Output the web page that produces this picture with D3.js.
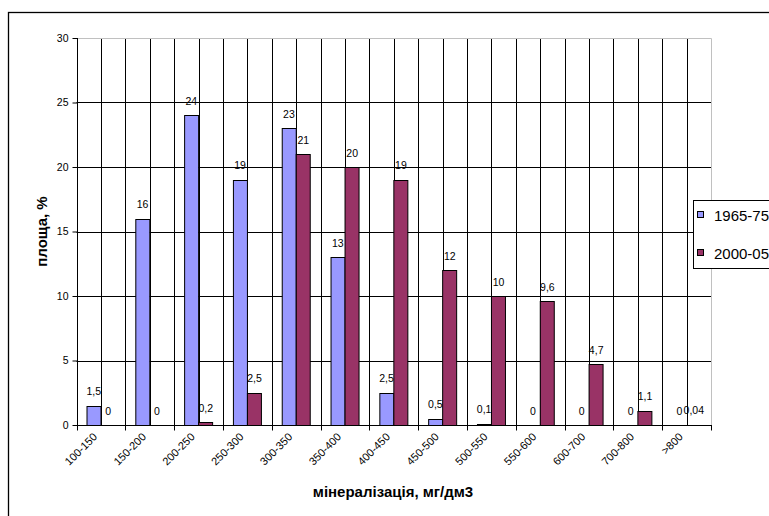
<!DOCTYPE html>
<html>
<head>
<meta charset="utf-8">
<script src="https://cdn.jsdelivr.net/npm/d3@7"></script>
<style>
  html, body { margin: 0; padding: 0; background: #fff; }
  svg { display: block; font-family: Arial, "Liberation Sans", sans-serif; }
</style>
</head>
<body>
<svg id="chart" width="769" height="516"></svg>
<script>
// Mineralisation classes (mg/dm3) and share of area (%) for two periods
const categories = ["100-150", "150-200", "200-250", "250-300", "300-350", "350-400",
  "400-450", "450-500", "500-550", "550-600", "600-700", "700-800", ">800"];
const seriesNames = ["1965-75", "2000-05"];
const values1965 = [1.5, 16, 24, 19, 23, 13, 2.5, 0.5, 0.1, 0, 0, 0, 0];
const values2000 = [0, 0, 0.2, 2.5, 21, 20, 19, 12, 10, 9.6, 4.7, 1.1, 0.04];
const yTicks = [0, 5, 10, 15, 20, 25, 30];
const colors = ["#9999FF", "#993366"];
const yTitle = "площа, %";
const xTitle = "мінералізація, мг/дм3";

const svg = d3.select("#chart");
const W = 769, H = 516;
const plot = { left: 76.5, right: 711, top: 38, bottom: 425 };

// outer chart frame
svg.append("rect")
  .attr("x", 8.5).attr("y", 12.5)
  .attr("width", W + 20).attr("height", H + 20)
  .attr("fill", "none").attr("stroke", "#000").attr("stroke-width", 1.3);

const x = d3.scaleBand().domain(categories).range([plot.left, plot.right]).padding(0);
const bw = x.bandwidth();
const xs = d3.scaleBand().domain(seriesNames).range([0, bw]).paddingInner(0).paddingOuter(0.695);
const y = d3.scaleLinear().domain([0, 30]).range([plot.bottom, plot.top]);

const crisp = v => Math.round(v) + 0.5;

// horizontal gridlines
const grid = svg.append("g");
grid.selectAll("line.h").data(yTicks.filter(t => t > 0 && t < 30)).join("line")
  .attr("x1", plot.left).attr("x2", plot.right)
  .attr("y1", d => crisp(y(d))).attr("y2", d => crisp(y(d)))
  .attr("stroke", "#000").attr("stroke-width", 1);

// vertical gridlines at category boundaries and centres
const vLines = [];
categories.forEach(c => { vLines.push(x(c)); vLines.push(x(c) + bw / 2); });
grid.selectAll("line.v").data(vLines.filter(v => v > plot.left + 1)).join("line")
  .attr("x1", d => crisp(d)).attr("x2", d => crisp(d))
  .attr("y1", plot.top).attr("y2", plot.bottom)
  .attr("stroke", "#000").attr("stroke-width", 1);

// plot area border (top and right)
svg.append("path")
  .attr("d", `M${plot.left},${crisp(plot.top)}H${crisp(plot.right)}V${plot.bottom}`)
  .attr("fill", "none").attr("stroke", "#c0c0c0").attr("stroke-width", 1);

// bars (values under one pixel tall are not drawn)
const rows = categories.map((c, i) => ({ cat: c, vals: [values1965[i], values2000[i]] }));
const groups = svg.append("g").selectAll("g").data(rows).join("g")
  .attr("transform", d => `translate(${x(d.cat)},0)`);

groups.selectAll("rect")
  .data(d => d.vals.map((v, k) => ({ v, k })).filter(e => plot.bottom - y(e.v) >= 1))
  .join("rect")
  .attr("x", e => Math.round(xs(seriesNames[e.k])) + 0.5)
  .attr("width", Math.round(xs.bandwidth()))
  .attr("y", e => Math.round(y(e.v)) + 0.5)
  .attr("height", e => Math.max(1, Math.round(plot.bottom - y(e.v))))
  .attr("fill", e => colors[e.k])
  .attr("stroke", "#000").attr("stroke-width", 1);

// value labels
const fmt = v => String(v).replace(".", ",");
groups.selectAll("text").data(d => d.vals.map((v, k) => ({ v, k }))).join("text")
  .attr("x", e => xs(seriesNames[e.k]) + xs.bandwidth() / 2)
  .attr("y", e => y(e.v) - 10.5)
  .attr("text-anchor", "middle")
  .attr("font-size", 10.5)
  .attr("fill", "#000")
  .text(e => fmt(e.v));

// y axis
const yAxis = svg.append("g").attr("transform", `translate(${crisp(plot.left)},0)`)
  .call(d3.axisLeft(y).tickValues(yTicks).tickSize(5).tickPadding(4).tickFormat(d3.format("d")));
yAxis.select(".domain").attr("stroke", "#000").attr("d", `M0,${plot.top}V${plot.bottom}`);
yAxis.selectAll(".tick line").attr("stroke", "#000");
yAxis.selectAll(".tick text").attr("font-size", 10.5).attr("font-family", "Arial, 'Liberation Sans', sans-serif").attr("fill", "#000");

// x axis
const xAxis = svg.append("g").attr("transform", `translate(0,${crisp(plot.bottom)})`);
xAxis.append("line").attr("x1", plot.left).attr("x2", plot.right + 1)
  .attr("stroke", "#000");
const bounds = categories.map(c => x(c)).concat([plot.right]);
xAxis.selectAll("line.t").data(bounds).join("line")
  .attr("x1", d => crisp(d)).attr("x2", d => crisp(d))
  .attr("y1", 0).attr("y2", 5).attr("stroke", "#000");
xAxis.selectAll("text").data(categories).join("text")
  .attr("transform", c => `translate(${x(c) + bw / 2 - 3},${12}) rotate(-45)`)
  .attr("text-anchor", "end")
  .attr("font-size", 11)
  .attr("fill", "#000")
  .text(c => c);

// axis titles
svg.append("text")
  .attr("x", 393).attr("y", 497)
  .attr("text-anchor", "middle")
  .attr("font-size", 15).attr("font-weight", "bold")
  .text(xTitle);
svg.append("text")
  .attr("transform", `translate(47,${(plot.top + plot.bottom) / 2}) rotate(-90)`)
  .attr("text-anchor", "middle")
  .attr("font-size", 15).attr("font-weight", "bold")
  .text(yTitle);

// legend
const legend = svg.append("g");
legend.append("rect")
  .attr("x", 693.5).attr("y", 200.5).attr("width", 120).attr("height", 68)
  .attr("fill", "#fff").attr("stroke", "#000").attr("stroke-width", 1);
seriesNames.forEach((s, i) => {
  const cy = 215 + i * 38;
  legend.append("rect")
    .attr("x", 697.5).attr("y", cy - 3.5).attr("width", 6).attr("height", 6)
    .attr("fill", colors[i]).attr("stroke", "#000");
  legend.append("text")
    .attr("x", 714).attr("y", cy + 5.5)
    .attr("font-size", 15).attr("fill", "#000")
    .text(s);
});
</script>
</body>
</html>
